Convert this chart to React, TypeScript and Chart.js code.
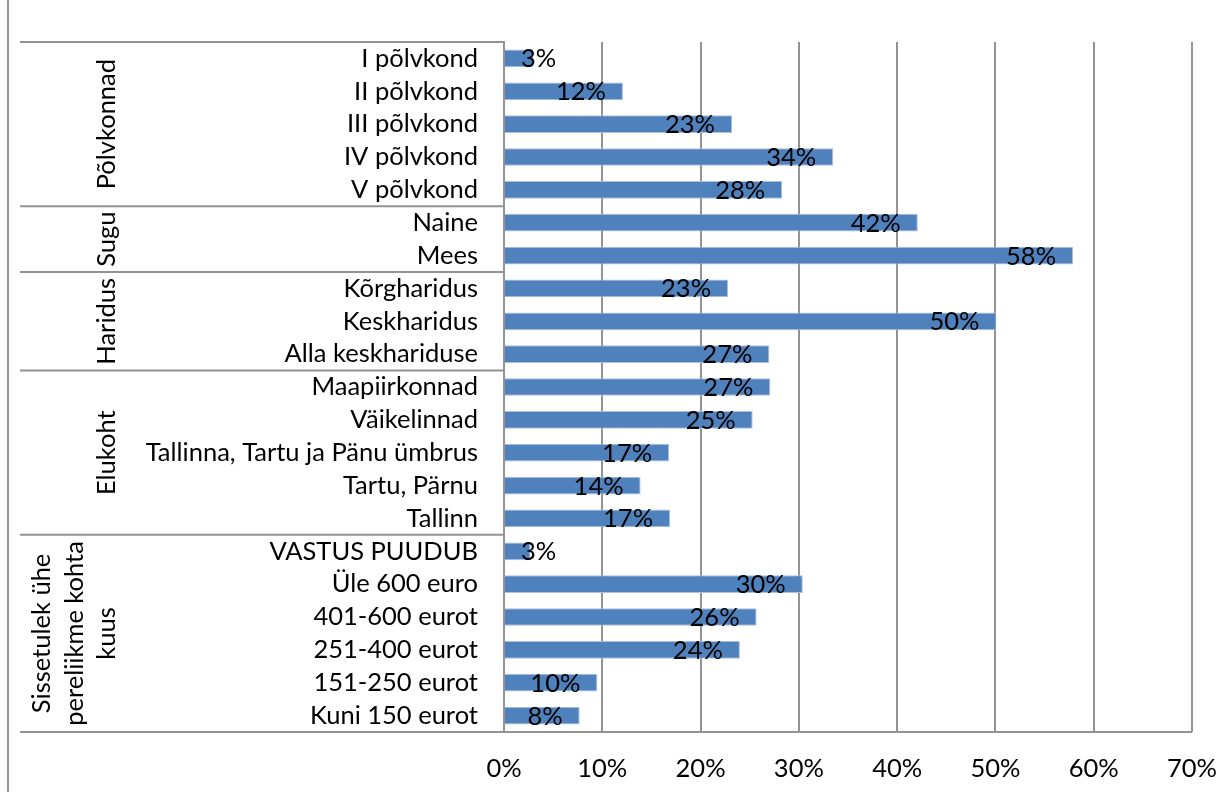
import React, { useEffect, useRef } from 'react';
import { Chart, registerables } from 'chart.js';

Chart.register(...registerables);

const CATEGORIES = [
  'I põlvkond',
  'II põlvkond',
  'III põlvkond',
  'IV põlvkond',
  'V põlvkond',
  'Naine',
  'Mees',
  'Kõrgharidus',
  'Keskharidus',
  'Alla keskhariduse',
  'Maapiirkonnad',
  'Väikelinnad',
  'Tallinna, Tartu ja Pänu ümbrus',
  'Tartu, Pärnu',
  'Tallinn',
  'VASTUS PUUDUB',
  'Üle 600 euro',
  '401-600 eurot',
  '251-400 eurot',
  '151-250 eurot',
  'Kuni 150 eurot',
];

const VALUES = [
  2.95, 12.1, 23.2, 33.5, 28.3,
  42.1, 57.9,
  22.8, 50.1, 27.0,
  27.1, 25.3, 16.8, 13.9, 16.9,
  2.7, 30.4, 25.7, 24.0, 9.5, 7.7,
];

const GROUP_NAMES = [
  ['Põlvkonnad'],
  ['Sugu'],
  ['Haridus'],
  ['Elukoht'],
  ['Sissetulek ühe', 'pereliikme kohta', 'kuus'],
];
const GROUP_SIZES = [5, 2, 3, 5, 6];

const X_MIN = 0;
const X_MAX = 70;
const X_STEP = 10;

const FONT_FAMILY = 'Lato';
const FONT_SIZE = 25.5;
const GRID = '#939393';
const BAR = '#4F81BD';

export default function App() {
  const ref = useRef<HTMLCanvasElement>(null);

  useEffect(() => {
    document.body.style.margin = '0';
    const canvas = ref.current;
    if (!canvas) return;

    const groupPlugin = {
      id: 'groupLabels',
      afterDraw(chart: any) {
        const ctx = chart.ctx;
        const ys = chart.scales.y;
        const ca = chart.chartArea;
        ctx.save();
        ctx.strokeStyle = GRID;
        ctx.lineWidth = 2;
        // outer frame left edge
        ctx.beginPath();
        ctx.moveTo(8, 0);
        ctx.lineTo(8, chart.height);
        ctx.stroke();

        const bounds: number[] = [ca.top];
        let idx = 0;
        GROUP_SIZES.forEach((n) => {
          idx += n;
          if (idx >= CATEGORIES.length) bounds.push(ca.bottom);
          else bounds.push((ys.getPixelForValue(idx - 1) + ys.getPixelForValue(idx)) / 2);
        });
        bounds.forEach((b, i) => {
          ctx.beginPath();
          ctx.moveTo(20, b);
          ctx.lineTo(i === bounds.length - 1 ? ca.right : ca.left, b);
          ctx.stroke();
        });

        ctx.fillStyle = '#000';
        ctx.font = `${FONT_SIZE}px ${FONT_FAMILY}`;
        ctx.textAlign = 'center';
        ctx.textBaseline = 'alphabetic';
        GROUP_NAMES.forEach((lines, g) => {
          const cy = (bounds[g] + bounds[g + 1]) / 2;
          lines.forEach((line, i) => {
            const bx = 115 - (lines.length - 1 - i) * 32.5;
            ctx.save();
            ctx.translate(bx, cy);
            ctx.rotate(-Math.PI / 2);
            ctx.fillText(line, 0, 0);
            ctx.restore();
          });
        });
        ctx.restore();
      },
    };

    const labelPlugin = {
      id: 'barLabels',
      afterDatasetsDraw(chart: any) {
        const ctx = chart.ctx;
        const meta = chart.getDatasetMeta(0);
        ctx.save();
        ctx.fillStyle = '#000';
        ctx.font = `${FONT_SIZE}px ${FONT_FAMILY}`;
        ctx.textAlign = 'left';
        ctx.textBaseline = 'alphabetic';
        meta.data.forEach((bar: any, i: number) => {
          const t = Math.round(VALUES[i]) + '%';
          const w = ctx.measureText(t).width;
          let left = bar.x - 17 - w;
          if (left < bar.base + 16) left = bar.base + 16;
          ctx.fillText(t, left, bar.y + 9);
        });
        ctx.restore();
      },
    };

    const chart = new Chart(canvas, {
      type: 'bar',
      data: {
        labels: CATEGORIES,
        datasets: [
          {
            data: VALUES,
            backgroundColor: BAR,
            borderColor: '#a9c0df',
            borderWidth: 1,
            categoryPercentage: 1,
            barPercentage: 0.54,
          },
        ],
      },
      options: {
        indexAxis: 'y',
        responsive: false,
        animation: false,
        devicePixelRatio: 1,
        layout: { padding: { top: 42, right: 40, left: 0, bottom: 0 } },
        plugins: {
          legend: { display: false },
          tooltip: { enabled: false },
          title: { display: false },
        },
        scales: {
          x: {
            type: 'linear',
            min: X_MIN,
            max: X_MAX,
            grid: { color: GRID, lineWidth: 2, drawTicks: false },
            border: { display: false },
            ticks: {
              stepSize: X_STEP,
              maxRotation: 0,
              callback: (v: any) => v + '%',
              color: '#000',
              font: { family: FONT_FAMILY, size: FONT_SIZE },
              padding: 21,
            },
            afterFit(scale: any) {
              scale.height = 60;
              scale.paddingLeft = 0;
              scale.paddingRight = 0;
            },
          },
          y: {
            grid: { display: false, drawTicks: false },
            border: { display: true, color: GRID, width: 2 },
            ticks: {
              autoSkip: false,
              color: '#000',
              font: { family: FONT_FAMILY, size: FONT_SIZE },
              padding: 26,
            },
            afterFit(scale: any) {
              scale.width = 504;
              scale.paddingTop = 0;
              scale.paddingBottom = 0;
            },
          },
        },
      },
      plugins: [groupPlugin, labelPlugin],
    });

    return () => chart.destroy();
  }, []);

  return (
    <div style={{ position: 'absolute', left: 0, top: 0, width: 1232, height: 792 }}>
      <canvas ref={ref} width={1232} height={792} style={{ display: 'block' }} />
    </div>
  );
}
